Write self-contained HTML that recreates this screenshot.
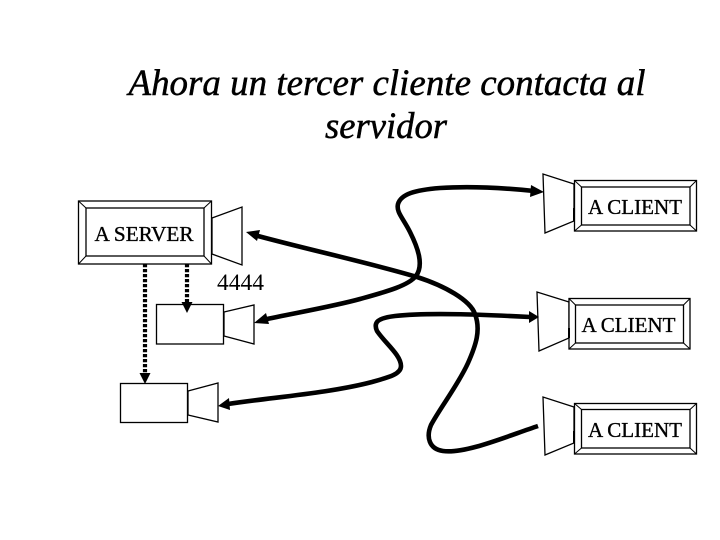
<!DOCTYPE html>
<html><head><meta charset="utf-8"><style>
html,body{margin:0;padding:0;background:#fff;width:720px;height:540px;overflow:hidden}
svg{display:block}
text{font-family:"Liberation Serif",serif;fill:#000}
.b{stroke:#000;stroke-width:.35}
.h{stroke:#000;stroke-width:.5}
.l{fill:#fff;stroke:#000;stroke-width:1.3}
.t{fill:none;stroke:#000;stroke-width:1}
.c{fill:none;stroke:#000;stroke-width:4.600;stroke-linecap:butt}
.d{fill:none;stroke:#000;stroke-width:4.200;stroke-dasharray:3.200 1.800}
</style></head><body>
<svg width="720" height="540" viewBox="0 0 720 540" xmlns="http://www.w3.org/2000/svg">
<text class="h" x="387" y="95" text-anchor="middle" font-size="37" font-style="italic" textLength="517" lengthAdjust="spacingAndGlyphs">Ahora un tercer cliente contacta al</text>
<text class="h" x="386" y="138" text-anchor="middle" font-size="37" font-style="italic" textLength="122" lengthAdjust="spacingAndGlyphs">servidor</text>

<polygon class="l" points="212,218 242,207 242,265 212,254"/>
<rect class="l" x="78.500" y="201" width="133" height="63"/>
<rect class="l" x="86" y="208" width="118" height="48"/>
<path class="t" d="M78.500 201L86 208M211.500 201L204 208M78.500 264L86 256M211.500 264L204 256"/>
<text class="b" x="144" y="241" text-anchor="middle" font-size="21" textLength="99" lengthAdjust="spacingAndGlyphs">A SERVER</text>
<text x="217" y="290" font-size="23" textLength="47" lengthAdjust="spacingAndGlyphs">4444</text>

<rect class="l" x="156.500" y="304.500" width="67" height="39.500"/>
<polygon class="l" points="224,312 254,305 254,344 224,336"/>
<rect class="l" x="120.500" y="383.500" width="67" height="39"/>
<polygon class="l" points="188,391 218,383 218,422 188,415"/>

<path class="d" d="M145 264V375"/>
<polygon points="139.500,373 150.500,373 145,384"/>
<path class="d" d="M187 264V304"/>
<polygon points="181.500,302 192.500,302 187,313"/>

<polygon class="l" points="574,184 543,174 545,233 574,221"/>
<rect class="l" x="574.500" y="180.500" width="122" height="50.500"/>
<rect class="l" x="581.500" y="187" width="108.500" height="38"/>
<path class="t" d="M574.500 180.500L581.500 187M696.500 180.500L690 187M574.500 231L581.500 225M696.500 231L690 225"/>
<path d="M574 208V221" stroke="#000" stroke-width="2"/>
<text class="b" x="635" y="214" text-anchor="middle" font-size="21" textLength="94" lengthAdjust="spacingAndGlyphs">A CLIENT</text>

<polygon class="l" points="569,302 537,292 539,351 569,338"/>
<rect class="l" x="569" y="298.500" width="121" height="50.500"/>
<rect class="l" x="575.500" y="305" width="108" height="38"/>
<path class="t" d="M569 298.500L575.500 305M690 298.500L683.500 305M569 349L575.500 343M690 349L683.500 343"/>
<path d="M569 328V338" stroke="#000" stroke-width="2"/>
<text class="b" x="628.500" y="332" text-anchor="middle" font-size="21" textLength="94" lengthAdjust="spacingAndGlyphs">A CLIENT</text>

<polygon class="l" points="574,407 543,397 545,455 574,443"/>
<rect class="l" x="574.500" y="403.500" width="122" height="50.500"/>
<rect class="l" x="581.500" y="409.500" width="108.500" height="38.500"/>
<path class="t" d="M574.500 403.500L581.500 409.500M696.500 403.500L690 409.500M574.500 454L581.500 448M696.500 454L690 448"/>
<path d="M574 431V443" stroke="#000" stroke-width="2"/>
<text class="b" x="635" y="437" text-anchor="middle" font-size="21" textLength="94" lengthAdjust="spacingAndGlyphs">A CLIENT</text>

<!-- curve to client 1 -->
<path class="c" d="M262 320C300 312 335 306 360 299C385 292 408 286 416 276C424 265 418 248 410 232C403 218 396 212 398 204C401 194 415 190 440 188C470 186 505 188 534 191"/>
<polygon points="254,323 266,313 269,324"/>
<polygon points="544,192 531,185 530,197"/>
<!-- curve to client 2 -->
<path class="c" d="M228 404C275 397 330 393 372 382C390 377 401 374 401 366C401 355 385 343 377 331C373 322 378 318 395 316C430 312 490 315 530 317"/>
<polygon points="218,406 229,398 230,410"/>
<polygon points="539,317 529,311 529,323"/>
<!-- curve to client 3 -->
<path class="c" d="M258 236C310 250 370 263 417 277C445 286 470 300 475 314C481 330 476 345 468 363C458 385 440 408 431 425C426 437 429 449 443 451C465 454 505 437 538 426"/>
<polygon points="246,232 260,230 257,241"/>
</svg>
</body></html>
